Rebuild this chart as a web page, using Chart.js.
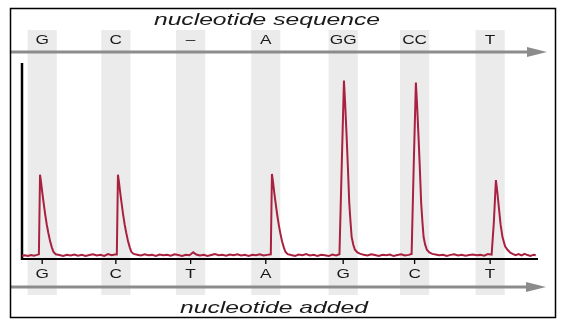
<!DOCTYPE html>
<html>
<head>
<meta charset="utf-8">
<script src="https://cdn.jsdelivr.net/npm/chart.js@4/dist/chart.umd.min.js"></script>
<style>
  html, body { margin: 0; padding: 0; background: #ffffff; overflow: hidden; }
  canvas { display: block; }
</style>
</head>
<body>
<canvas id="c" width="561" height="327"></canvas>
<script>
// ---- data ----
const sequenceLabels = ['G', 'C', '\u2013', 'A', 'GG', 'CC', 'T'];
const addedLabels = ['G', 'C', 'T', 'A', 'G', 'C', 'T'];
const flowTimes = [2.7, 12.55, 22.55, 32.6, 42.95, 52.5, 62.6];

const time = [
  0, 0.4, 0.8, 1.2, 1.6, 2.0, 2.26,
  2.41, 2.56, 2.71, 2.86, 3.11, 3.31, 3.51, 3.76, 4.01, 4.21, 4.51,
  5.0, 5.5, 6.0, 6.5, 7.0, 7.5, 8.0, 8.5, 9.0, 9.5, 10.0, 10.5, 11.0, 11.5, 12.0, 12.4, 12.68,
  12.83, 12.98, 13.13, 13.28, 13.53, 13.73, 13.93, 14.18, 14.43, 14.63, 14.93,
  15.4, 15.9, 16.4, 16.9, 17.4, 17.9, 18.4, 18.9, 19.4, 19.9, 20.4, 20.9, 21.4, 21.9, 22.4, 22.9, 23.3,
  23.8, 24.3, 24.8, 25.3, 25.8, 26.3, 26.8, 27.3, 27.8, 28.3, 28.8, 29.3, 29.8, 30.3, 30.8, 31.3, 31.8, 32.3, 32.8, 33.27,
  33.42, 33.57, 33.72, 33.87, 34.12, 34.32, 34.52, 34.77, 35.02, 35.22, 35.52,
  36.0, 36.5, 37.0, 37.5, 38.0, 38.5, 39.0, 39.5, 40.0, 40.5, 41.0, 41.5, 42.0, 42.45,
  42.75, 43.05, 43.2, 43.41, 43.6, 43.76, 43.93, 44.08, 44.3, 44.52, 44.85, 45.25,
  45.7, 46.2, 46.7, 47.2, 47.7, 48.2, 48.7, 49.2, 49.7, 50.2, 50.7, 51.2, 51.7, 52.1,
  52.37, 52.67, 52.82, 53.03, 53.22, 53.38, 53.55, 53.7, 53.92, 54.14, 54.47, 54.87,
  55.3, 55.8, 56.3, 56.8, 57.3, 57.8, 58.3, 58.8, 59.3, 59.8, 60.3, 60.8, 61.3, 61.8, 62.3, 62.8,
  63.1, 63.37, 63.55, 63.8, 64.0, 64.25, 64.6, 64.92, 65.3, 65.6,
  66.0, 66.4, 66.8, 67.2, 67.6, 68.0, 68.4, 68.7
];

const signal = [
  1.6, 1.9, 1.5, 2.0, 1.7, 2.1, 2.4,
  43, 38.9, 34, 29.5, 22.5, 17.6, 13.5, 9, 5.7, 3.6, 2.4,
  2.0, 1.6, 2.2, 1.8, 2.3, 1.7, 2.1, 1.5, 2.0, 2.4, 1.8, 2.2, 1.6, 2.5, 1.9, 2.3, 2.3,
  43, 38.9, 34, 29.5, 22.5, 17.6, 13.5, 9, 5.7, 3.6, 2.6,
  2.2, 1.8, 2.4, 1.9, 2.1, 1.6, 2.3, 1.9, 2.2, 1.7, 2.4, 2.0, 1.6, 2.2, 1.9, 3.4, 2.3,
  1.8, 2.1, 1.5, 2.0, 2.5, 1.9, 2.2, 1.7, 2.3, 1.9, 2.4, 1.8, 2.1, 1.6, 2.2, 1.9, 2.4, 1.8, 2.1, 2.4,
  43.4, 39.2, 34.3, 29.8, 22.7, 17.8, 13.6, 9.1, 5.8, 3.7, 2.5,
  2.0, 1.6, 2.3, 1.9, 2.5, 1.8, 2.1, 1.6, 2.2, 1.9, 1.5, 2.3, 1.8, 2.4,
  47, 91, 80.3, 62.5, 44.7, 28.7, 18.9, 11.3, 7.3, 4.7, 3.3, 2.6,
  2.2, 1.8, 2.4, 2.0, 1.6, 2.2, 1.9, 2.3, 1.5, 2.0, 2.4, 1.8, 2.1, 2.6,
  46, 90, 79.4, 61.8, 44.2, 28.4, 18.7, 11.2, 7.2, 4.7, 3.3, 2.6,
  2.3, 1.9, 2.2, 1.6, 2.1, 2.4, 1.8, 2.2, 1.7, 2.0, 2.3, 1.9, 2.1, 1.7, 2.5, 2.2,
  19, 40.3, 34.5, 25, 17.5, 11.2, 6.5, 4.7, 3.2, 2.6,
  1.9, 2.5, 1.8, 2.6, 2.0, 1.6, 2.2, 1.9
];

// ---- chart ----
const FONT = '"Liberation Sans", Arial, Helvetica, sans-serif';

function stretchedText(ctx, text, x, y, font, sx, color) {
  ctx.save();
  ctx.font = font;
  ctx.fillStyle = color;
  ctx.textAlign = 'center';
  ctx.textBaseline = 'alphabetic';
  ctx.translate(x, y);
  ctx.scale(sx, 1);
  ctx.fillText(text, 0, 0);
  ctx.restore();
}

function arrow(ctx, x0, x1, y) {
  ctx.save();
  ctx.strokeStyle = '#8c8c8c';
  ctx.fillStyle = '#8c8c8c';
  ctx.lineWidth = 3;
  ctx.beginPath();
  ctx.moveTo(x0, y);
  ctx.lineTo(x1 - 16, y);
  ctx.stroke();
  ctx.beginPath();
  ctx.moveTo(x1 - 20, y - 5);
  ctx.lineTo(x1, y);
  ctx.lineTo(x1 - 20, y + 5);
  ctx.closePath();
  ctx.fill();
  ctx.restore();
}

const decor = {
  id: 'decor',
  beforeDraw(chart) {
    const ctx = chart.ctx;
    const xs = chart.scales.x;
    ctx.save();
    ctx.fillStyle = '#ffffff';
    ctx.fillRect(0, 0, chart.width, chart.height);
    // grey flow bands
    ctx.fillStyle = '#ebebeb';
    flowTimes.forEach(t => {
      const a = xs.getPixelForValue(t - 1.95);
      const b = xs.getPixelForValue(t + 1.95);
      ctx.fillRect(a, 30, b - a, 265);
    });
    ctx.restore();
    // arrows
    arrow(ctx, 11, 547, 52);
    arrow(ctx, 11, 546, 287);
    // frame
    ctx.save();
    ctx.strokeStyle = '#000000';
    ctx.lineWidth = 1.5;
    ctx.strokeRect(10.5, 8.5, 545, 309);
    ctx.restore();
    // titles
    stretchedText(ctx, 'nucleotide sequence', 267, 25, 'italic 17px ' + FONT, 1.45, '#1a1a1a');
    stretchedText(ctx, 'nucleotide added', 274, 313, 'italic 17px ' + FONT, 1.45, '#1a1a1a');
    // top labels
    flowTimes.forEach((t, i) => {
      stretchedText(ctx, sequenceLabels[i], xs.getPixelForValue(t), 43.5, '12.5px ' + FONT, 1.38, '#1a1a1a');
    });
  },
  beforeDatasetsDraw(chart) {
    const ctx = chart.ctx;
    const xs = chart.scales.x;
    const ca = chart.chartArea;
    ctx.save();
    ctx.strokeStyle = '#000000';
    // y axis
    ctx.lineWidth = 2.5;
    ctx.beginPath();
    ctx.moveTo(ca.left, ca.top);
    ctx.lineTo(ca.left, ca.bottom + 1);
    ctx.stroke();
    // x axis
    ctx.lineWidth = 2;
    ctx.beginPath();
    ctx.moveTo(ca.left - 1, ca.bottom);
    ctx.lineTo(ca.right, ca.bottom);
    ctx.stroke();
    // ticks + labels
    ctx.lineWidth = 1.3;
    flowTimes.forEach((t, i) => {
      const px = xs.getPixelForValue(t);
      ctx.beginPath();
      ctx.moveTo(px, ca.bottom);
      ctx.lineTo(px, ca.bottom + 5);
      ctx.stroke();
      stretchedText(ctx, addedLabels[i], px, 277.5, '12.5px ' + FONT, 1.38, '#1a1a1a');
    });
    ctx.restore();
  }
};

new Chart(document.getElementById('c'), {
  type: 'line',
  data: {
    datasets: [{
      data: time.map((t, i) => ({ x: t, y: signal[i] })),
      borderColor: '#a8213f',
      borderWidth: 2,
      pointRadius: 0,
      tension: 0,
      fill: false
    }]
  },
  options: {
    responsive: false,
    devicePixelRatio: 1,
    animation: false,
    layout: { padding: { left: 22, right: 23, top: 63, bottom: 68 } },
    plugins: { legend: { display: false }, tooltip: { enabled: false } },
    scales: {
      x: { type: 'linear', min: 0, max: 69, display: false },
      y: { type: 'linear', min: 0, max: 100, display: false }
    }
  },
  plugins: [decor]
});
</script>
</body>
</html>
